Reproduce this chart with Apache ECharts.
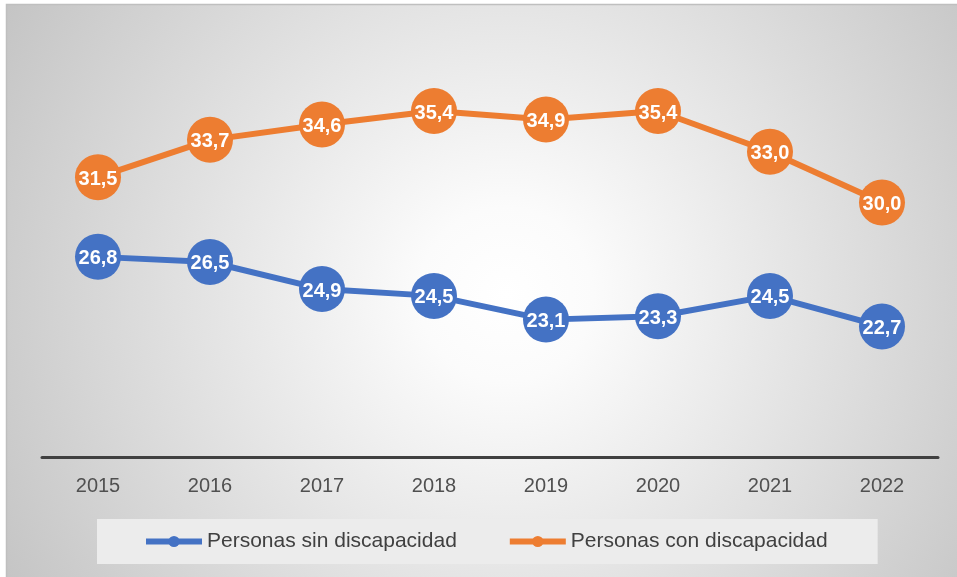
<!DOCTYPE html>
<html>
<head>
<meta charset="utf-8">
<script src="https://cdn.jsdelivr.net/npm/echarts@6/dist/echarts.min.js"></script>
<style>
html,body{margin:0;padding:0;background:#fff;}
#c{width:957px;height:577px;}
</style>
</head>
<body>
<div id="c"></div>
<script>
const categories = ['2015','2016','2017','2018','2019','2020','2021','2022'];
const sinDiscapacidad = [26.8, 26.5, 24.9, 24.5, 23.1, 23.3, 24.5, 22.7];
const conDiscapacidad = [31.5, 33.7, 34.6, 35.4, 34.9, 35.4, 33.0, 30.0];
const seriesNames = ['Personas sin discapacidad', 'Personas con discapacidad'];

const chart = echarts.init(document.getElementById('c'), null, {renderer: 'canvas'});
const fmt = p => p.value.toFixed(1).replace('.', ',');
const labelStyle = {
  show: true, position: 'inside', formatter: fmt, offset: [0, 2],
  color: '#ffffff', fontWeight: 'bold', fontSize: 20,
  fontFamily: 'Liberation Sans, Arial, sans-serif'
};
chart.setOption({
  animation: false,
  graphic: [{
    type: 'rect', z: -10, silent: true,
    shape: {x: 6.5, y: 4.5, width: 960, height: 580},
    style: {
      fill: {type: 'radial', x: 0.52, y: 0.5, r: 1,
        colorStops: [{offset: 0, color: '#ffffff'}, {offset: 0.15, color: '#fbfbfb'}, {offset: 1, color: '#c4c4c4'}]},
      stroke: '#bfbfbf', lineWidth: 1.5
    }
  }],
  grid: {left: 42, right: 19, top: 33, bottom: 120},
  legend: {
    left: 97, top: 519,
    padding: [12, 50, 12, 46],
    backgroundColor: '#ececec',
    itemWidth: 56, itemHeight: 14, itemGap: 50,
    lineStyle: {width: 6},
    textStyle: {fontSize: 21, color: '#404040', fontFamily: 'Liberation Sans, Arial, sans-serif'},
    data: seriesNames
  },
  xAxis: {
    type: 'category', data: categories, boundaryGap: true,
    axisLine: {lineStyle: {color: '#404040', width: 3}},
    axisTick: {show: false},
    axisLabel: {fontSize: 20, color: '#505050', margin: 19, fontFamily: 'Liberation Sans, Arial, sans-serif'}
  },
  yAxis: {
    type: 'value', min: 15, max: 40, show: false,
    splitLine: {show: false}
  },
  series: [
    {
      name: seriesNames[0], type: 'line', data: sinDiscapacidad,
      symbol: 'circle', symbolSize: 46,
      itemStyle: {color: '#4472C4'},
      lineStyle: {color: '#4472C4', width: 6},
      label: labelStyle
    },
    {
      name: seriesNames[1], type: 'line', data: conDiscapacidad,
      symbol: 'circle', symbolSize: 46,
      itemStyle: {color: '#ED7D31'},
      lineStyle: {color: '#ED7D31', width: 6},
      label: labelStyle
    }
  ]
});
</script>
</body>
</html>
